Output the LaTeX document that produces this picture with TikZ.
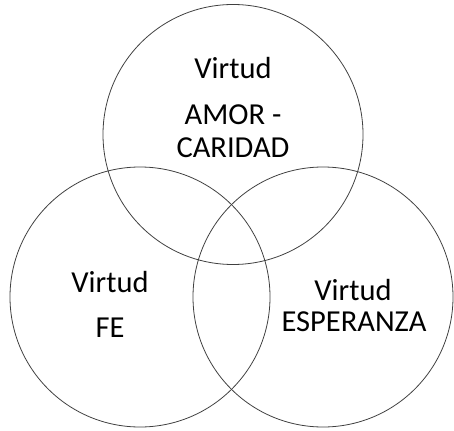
\documentclass[tikz,border=0pt]{standalone}
\usepackage{fontspec}
\setmainfont{Carlito}
\begin{document}
\begin{tikzpicture}[x=1pt,y=-1pt,
  ring/.style={circle,draw=black!75,line width=0.8pt,minimum size=260pt,inner sep=0pt,outer sep=0pt},
  lbl/.style={inner sep=0pt,font=\fontsize{30.5}{36}\selectfont,text=black}]
\useasboundingbox (0,0) rectangle (454,430);
\node[ring] (top) at (233,134.5) {};
\node[ring] (left) at (140,297) {};
\node[ring] (right) at (323,297) {};
\node[lbl] (t1) at (233,68) {Virtud};
\node[lbl] (t2) at (233,115) {AMOR -};
\node[lbl] (t3) at (233,148) {CARIDAD};
\node[lbl] (l1) at (110,282) {Virtud};
\node[lbl] (l2) at (110,328) {FE};
\node[lbl] (r1) at (353,290) {Virtud};
\node[lbl] (r2) at (354,322) {ESPERANZA};
\end{tikzpicture}
\end{document}
